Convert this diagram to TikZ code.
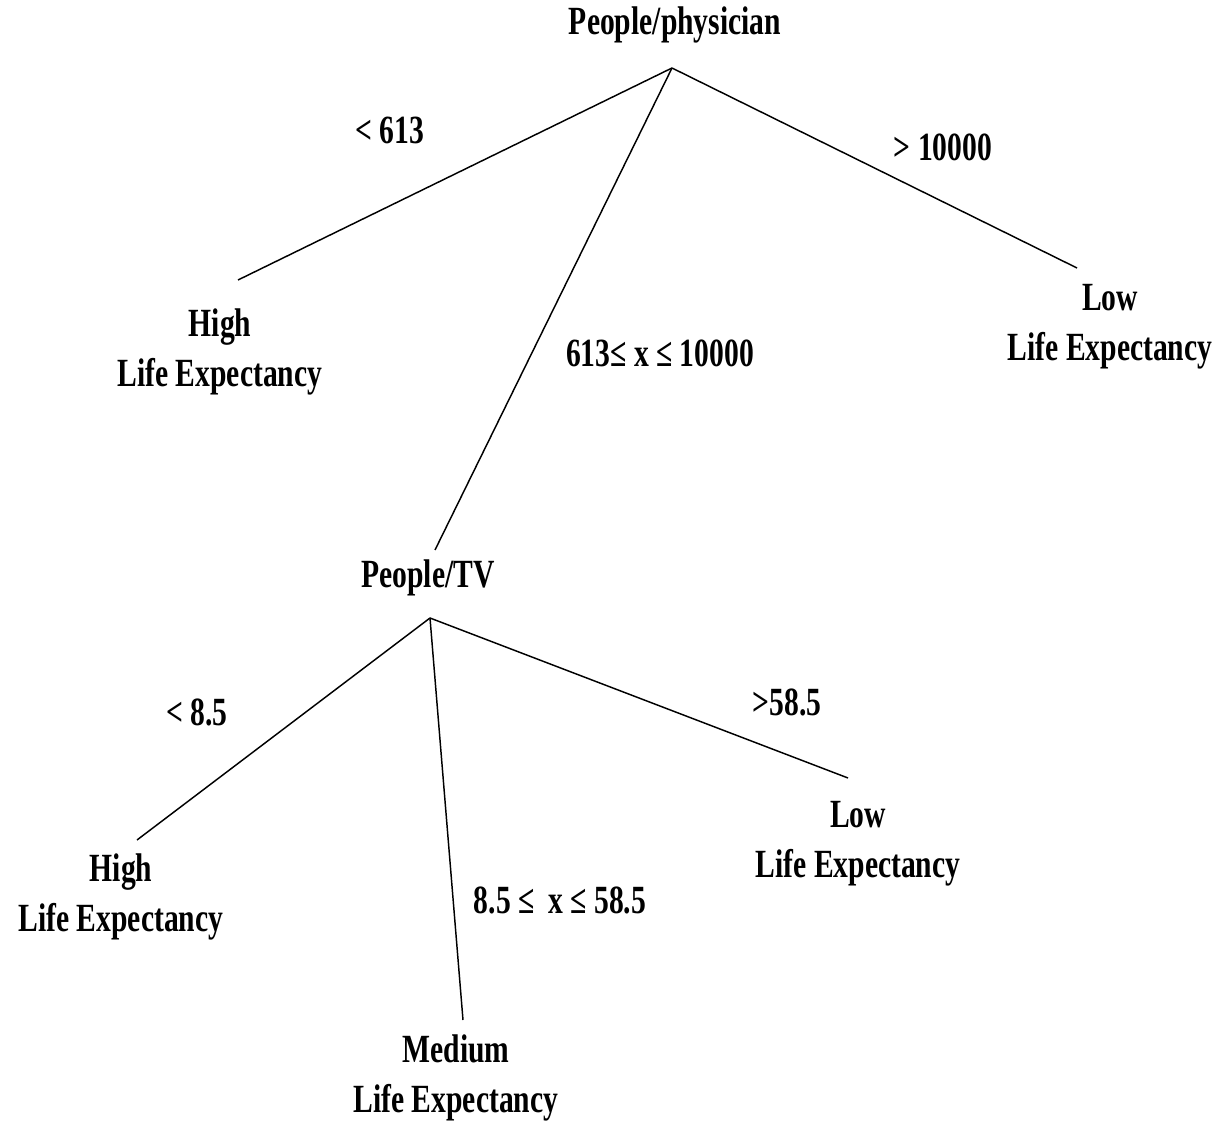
\documentclass[tikz,border=0pt]{standalone}
\usepackage{fontspec}
\setmainfont{Liberation Serif}[FakeStretch=0.74]
\begin{document}
\begin{tikzpicture}[x=0.75pt,y=-0.75pt,
  lbl/.style={font=\fontsize{30}{37.5}\selectfont\bfseries, inner sep=0pt, align=center},
  leaf/.style={lbl},
  edge/.style={line width=1.1pt, black}]
\useasboundingbox (0,0) rectangle (1232,1126);
% level 1
\node[lbl] (root) at (675,25) {People/physician};
\coordinate (r0) at (672,68);
\coordinate (lA) at (238,280);
\coordinate (mA) at (435,550);
\coordinate (rA) at (1077,268);
\draw[edge] (r0) -- (lA);
\draw[edge] (r0) -- (mA);
\draw[edge] (r0) -- (rA);
\node[lbl] (c1) at (390,130) {< 613};
\node[lbl] (c2) at (943,147) {> 10000};
\node[lbl] (c3) at (660,353) {613≤ x ≤ 10000};
\node[leaf] (h1) at (220,352) {High\\Life Expectancy};
\node[leaf] (l1) at (1110,327) {Low\\Life Expectancy};
% level 2
\node[lbl] (tv) at (428,578) {People/TV};
\coordinate (t0) at (430,618);
\coordinate (lB) at (137,840);
\coordinate (mB) at (463,1020);
\coordinate (rB) at (848,778);
\draw[edge] (t0) -- (lB);
\draw[edge] (t0) -- (mB);
\draw[edge] (t0) -- (rB);
\node[lbl] (c4) at (197,712) {< 8.5};
\node[lbl] (c5) at (787,702) {>58.5};
\node[lbl] (c6) at (560,900) {8.5 ≤ \,x ≤ 58.5};
\node[leaf] (h2) at (121,897) {High\\Life Expectancy};
\node[leaf] (l2) at (858,844) {Low\\Life Expectancy};
\node[leaf] (m2) at (456,1078) {Medium\\Life Expectancy};
\end{tikzpicture}
\end{document}
